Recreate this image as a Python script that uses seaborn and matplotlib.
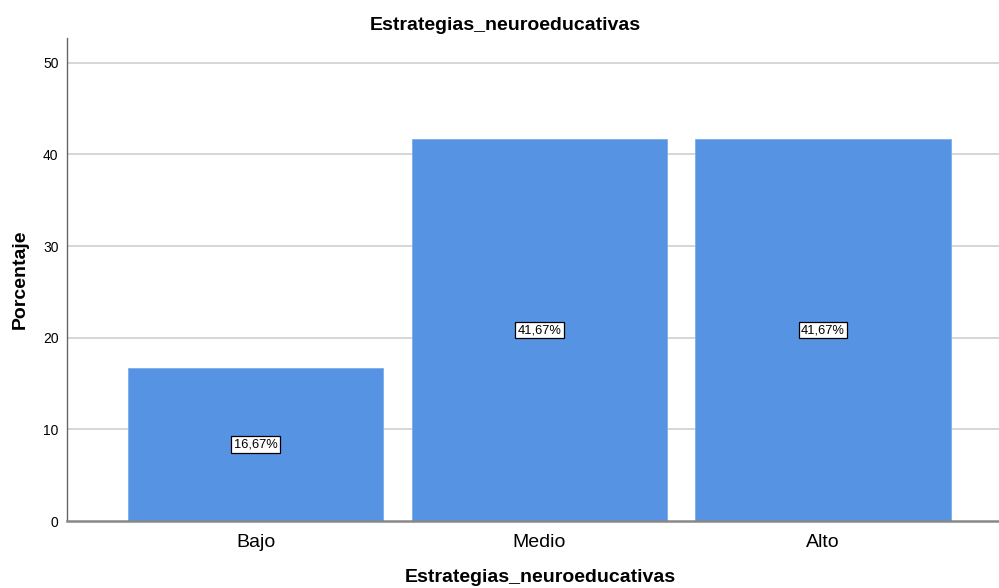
import matplotlib
matplotlib.use("Agg")
import matplotlib.pyplot as plt
import seaborn as sns
import pandas as pd

# data
categorias = ["Bajo", "Medio", "Alto"]
porcentajes = [16.67, 41.67, 41.67]
etiquetas = ["16,67%", "41,67%", "41,67%"]
y_ticks = [0, 10, 20, 30, 40, 50]

sns.set_style("white")
plt.rcParams['font.family'] = ['Liberation Sans', 'DejaVu Sans']
plt.rcParams.update({"text.color": "black", "axes.labelcolor": "black",
                     "xtick.color": "black", "ytick.color": "black"})

df = pd.DataFrame({"cat": categorias, "pct": porcentajes})

fig = plt.figure(figsize=(9.99, 5.88), dpi=100)
ax = fig.add_axes([0.067, 0.1139, 0.933, 0.8215])

sns.barplot(data=df, x="cat", y="pct", color="#5694e3", saturation=1,
            width=0.9, edgecolor="#7aaef0", linewidth=0.6, ax=ax, zorder=2)

# grid lines behind bars
for t in y_ticks[1:]:
    ax.axhline(t, color="#d3d3d3", linewidth=1.3, zorder=1)

for i, (v, lab) in enumerate(zip(porcentajes, etiquetas)):
    ax.text(i, v / 2, lab, ha="center", va="center", fontsize=9.3, zorder=3,
            bbox=dict(boxstyle="square,pad=0.18", facecolor="white",
                      edgecolor="black", linewidth=0.9))

ax.set_xlim(-0.665, 2.62)
ax.set_ylim(0, 52.7)
ax.set_yticks(y_ticks)
ax.set_yticklabels([str(t) for t in y_ticks], fontsize=10)
ax.tick_params(axis="x", labelsize=14, length=0, pad=9)
ax.tick_params(axis="y", length=0, pad=6)

for s in ["top", "right"]:
    ax.spines[s].set_visible(False)
ax.spines["left"].set_color("#666666")
ax.spines["left"].set_linewidth(1.0)
ax.spines["bottom"].set_color("#888888")
ax.spines["bottom"].set_linewidth(1.8)

ax.set_xlabel("")
fig.text(0.5055, 1 - 25 / 588, "Estrategias_neuroeducativas", fontsize=14,
         fontweight="bold", ha="center", va="center")
fig.text(0.5405, 1 - 578 / 588, "Estrategias_neuroeducativas", fontsize=14,
         fontweight="bold", ha="center", va="center")
ax.set_ylabel("Porcentaje", fontsize=14, fontweight="bold", labelpad=10)

fig.savefig("out.png", dpi=100)
